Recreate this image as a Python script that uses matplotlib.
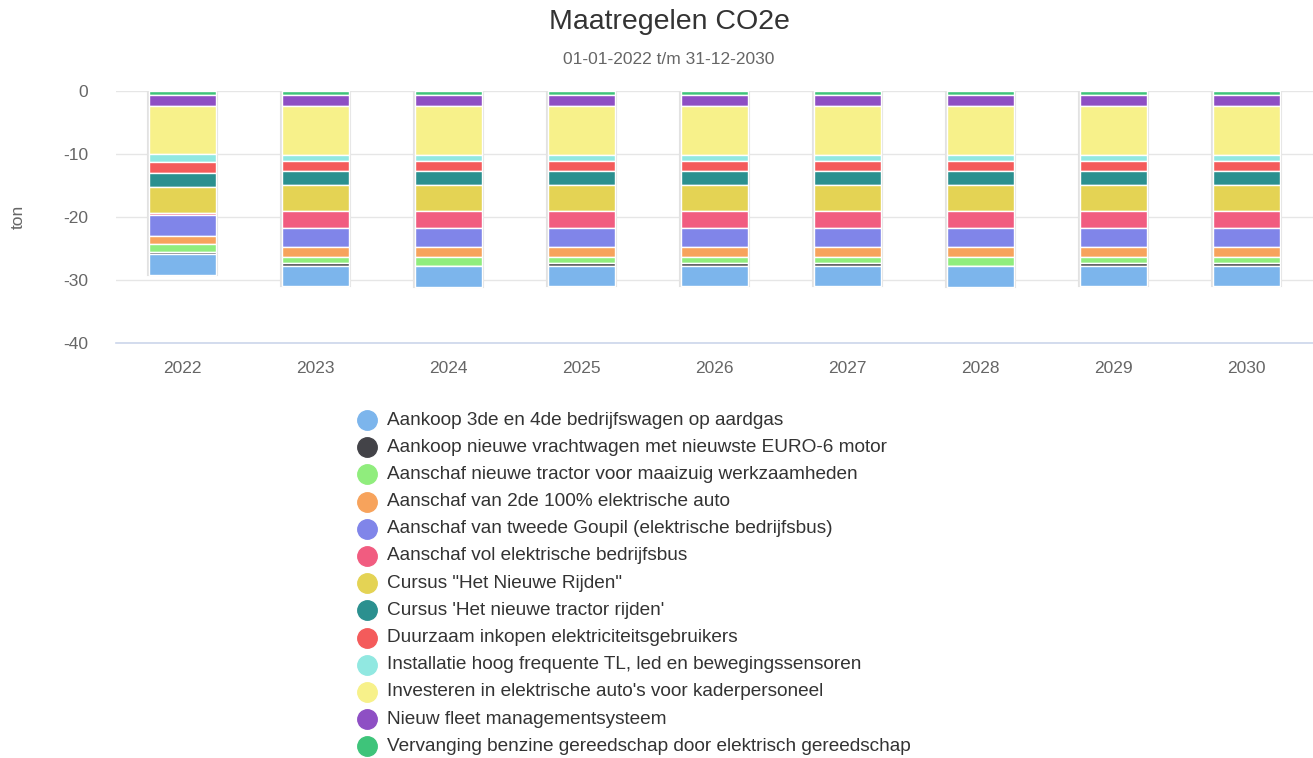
import numpy as np
import matplotlib.pyplot as plt
from matplotlib.lines import Line2D

plt.rcParams['font.family'] = ['Liberation Sans', 'DejaVu Sans']
plt.rcParams['axes.unicode_minus'] = False

years = ['2022', '2023', '2024', '2025', '2026', '2027', '2028', '2029', '2030']

# series in legend order (ton CO2e, negative = reduction)
series_names = [
    'Aankoop 3de en 4de bedrijfswagen op aardgas',
    'Aankoop nieuwe vrachtwagen met nieuwste EURO-6 motor',
    'Aanschaf nieuwe tractor voor maaizuig werkzaamheden',
    'Aanschaf van 2de 100% elektrische auto',
    'Aanschaf van tweede Goupil (elektrische bedrijfsbus)',
    'Aanschaf vol elektrische bedrijfsbus',
    'Cursus "Het Nieuwe Rijden"',
    "Cursus 'Het nieuwe tractor rijden'",
    'Duurzaam inkopen elektriciteitsgebruikers',
    'Installatie hoog frequente TL, led en bewegingssensoren',
    "Investeren in elektrische auto's voor kaderpersoneel",
    'Nieuw fleet managementsysteem',
    'Vervanging benzine gereedschap door elektrisch gereedschap',
]
colors = ['#7cb5ec', '#434348', '#90ed7d', '#f7a35c', '#8085e9', '#f15c80',
          '#e4d354', '#2b908f', '#f45b5b', '#91e8e1', '#f7f18a', '#8e4fc4',
          '#3ec47a']

aardgas     = [-3.2, -3.15, -3.35, -3.15, -3.15, -3.15, -3.35, -3.15, -3.15]
vrachtwagen = [-0.4, -0.45, -0.05, -0.45, -0.45, -0.45, -0.05, -0.45, -0.45]
tractor     = [-1.3, -1.0, -1.45, -1.0, -1.0, -1.0, -1.45, -1.0, -1.0]
auto2       = [-1.2, -1.55, -1.55, -1.55, -1.55, -1.55, -1.55, -1.55, -1.55]
goupil      = [-3.4, -2.95, -2.95, -2.95, -2.95, -2.95, -2.95, -2.95, -2.95]
bedrijfsbus = [-0.3, -2.75, -2.75, -2.75, -2.75, -2.75, -2.75, -2.75, -2.75]
hnr         = [-4.1, -4.15, -4.15, -4.15, -4.15, -4.15, -4.15, -4.15, -4.15]
tractor_hnr = [-2.25, -2.2, -2.2, -2.2, -2.2, -2.2, -2.2, -2.2, -2.2]
duurzaam    = [-1.8, -1.55, -1.55, -1.55, -1.55, -1.55, -1.55, -1.55, -1.55]
tl_led      = [-1.2, -0.95, -0.95, -0.95, -0.95, -0.95, -0.95, -0.95, -0.95]
kader_autos = [-7.6, -7.8, -7.8, -7.8, -7.8, -7.8, -7.8, -7.8, -7.8]
fleet       = [-1.7, -1.7, -1.7, -1.7, -1.7, -1.7, -1.7, -1.7, -1.7]
gereedschap = [-0.7, -0.7, -0.7, -0.7, -0.7, -0.7, -0.7, -0.7, -0.7]

data = [aardgas, vrachtwagen, tractor, auto2, goupil, bedrijfsbus, hnr,
        tractor_hnr, duurzaam, tl_led, kader_autos, fleet, gereedschap]

W, H = 1313, 758
fig = plt.figure(figsize=(W / 100, H / 100), dpi=100)
ax = fig.add_axes([116 / W, 1 - 343 / H, 1197 / W, 252 / H])

x = np.arange(len(years))
width = 0.5

# stack from zero downwards: last series closest to zero
bottom = np.zeros(len(years))
totals = np.sum(np.array(data), axis=0)
ax.bar(x, totals, width=width + 0.015, color='none', edgecolor='#e2e2e2',
       linewidth=1.5, zorder=2)
for vals, col in reversed(list(zip(data, colors))):
    v = np.array(vals)
    ax.bar(x, v, width=width, bottom=bottom, color=col, edgecolor='white',
           linewidth=1, zorder=3)
    bottom = bottom + v

ax.set_xlim(-0.5, len(years) - 0.5)
ax.set_ylim(-40, 0)
ax.set_yticks([0, -10, -20, -30, -40])
ax.set_xticks(x)
ax.set_xticklabels(years)
ax.tick_params(axis='both', length=0, labelsize=12.5, colors='#666666')
ax.tick_params(axis='x', pad=13)
ax.tick_params(axis='y', pad=20)
ax.yaxis.grid(True, color='#e6e6e6', linewidth=1, zorder=0)
ax.set_axisbelow(True)
for s in ['top', 'right', 'left']:
    ax.spines[s].set_visible(False)
ax.spines['bottom'].set_color('#ccd6eb')
ax.spines['bottom'].set_linewidth(1.2)
ax.spines['bottom'].set_zorder(1)

fig.text(18 / W, 1 - 217 / H, 'ton', rotation=90, ha='center', va='center',
         fontsize=12.5, color='#666666')

fig.text(669 / W, 1 - 22 / H, 'Maatregelen CO2e', ha='center', va='center',
         fontsize=20.5, color='#333333')
fig.text(669 / W, 1 - 60 / H, '01-01-2022 t/m 31-12-2030', ha='center',
         va='center', fontsize=12.5, color='#666666')

# legend
for i, (name, col) in enumerate(zip(series_names, colors)):
    yy = 1 - (420 + i * 27.2) / H
    fig.add_artist(Line2D([367 / W], [yy], marker='o', markersize=14,
                          color=col, linestyle='none',
                          transform=fig.transFigure))
    fig.text(387 / W, yy, name, ha='left', va='center', fontsize=13.7,
             color='#333333')

fig.savefig('out.png', dpi=100)
